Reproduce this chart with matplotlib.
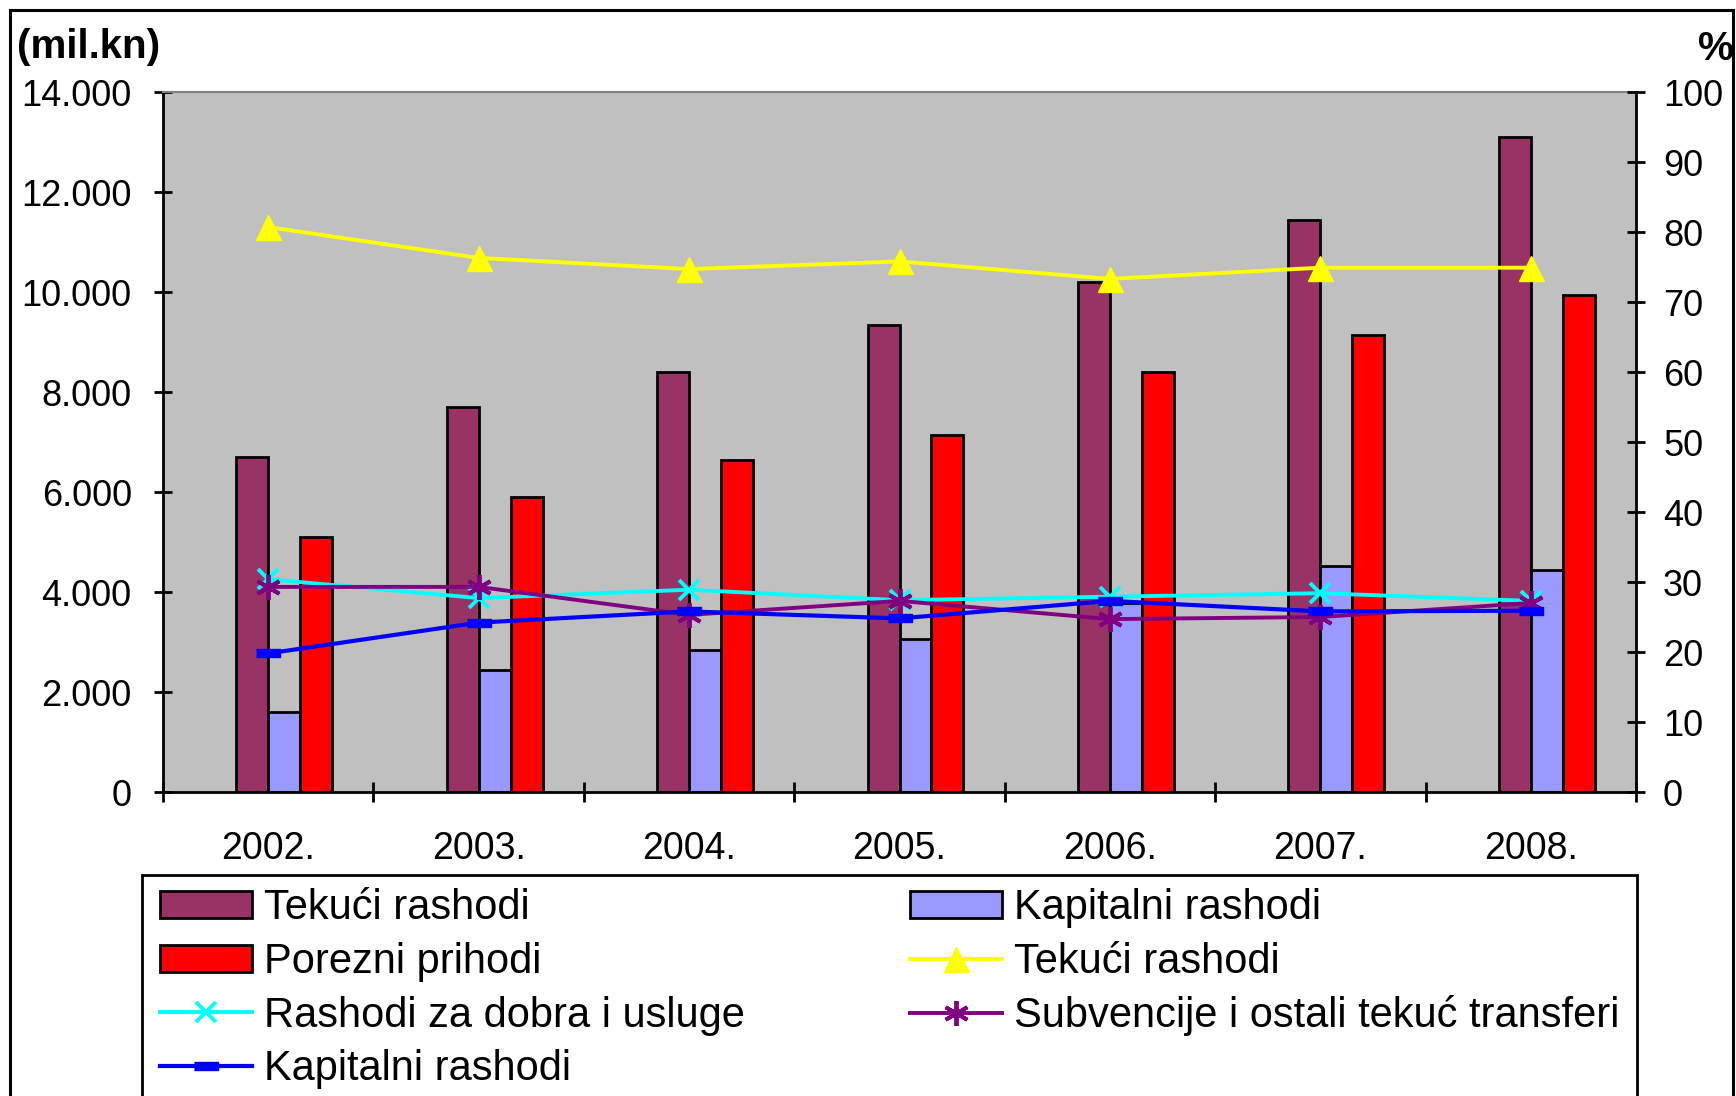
import numpy as np
import matplotlib.pyplot as plt
from matplotlib.patches import Rectangle
from matplotlib.ticker import FuncFormatter, FixedLocator

plt.rcParams['font.family'] = ['Liberation Sans', 'DejaVu Sans']

years = ['2002.', '2003.', '2004.', '2005.', '2006.', '2007.', '2008.']

# mil. kn (left axis)
tekuci = [6700, 7700, 8400, 9350, 10200, 11450, 13100]
kapitalni = [1600, 2440, 2850, 3060, 3780, 4520, 4440]
porezni = [5100, 5900, 6650, 7150, 8400, 9150, 9950]

# % (right axis)
tekuci_pct = [80.7, 76.3, 74.7, 75.8, 73.3, 74.9, 74.9]
dobra_pct = [30.4, 27.7, 28.9, 27.4, 27.9, 28.4, 27.3]
subv_pct = [29.3, 29.3, 25.3, 27.3, 24.7, 25.0, 27.0]
kapit_pct = [19.8, 24.2, 25.8, 24.8, 27.3, 25.8, 25.9]

W, H = 1736, 1096
fig = plt.figure(figsize=(W / 100, H / 100), dpi=100)
ax = fig.add_axes([163 / W, 1 - 792 / H, (1636 - 163) / W, (792 - 92) / H])
ax.set_facecolor('#C0C0C0')

x = np.arange(len(years))
bw = 0.152
# four slots per category, the first one empty (as in the original Excel chart)
b1 = ax.bar(x - 0.5 * bw, tekuci, bw, color='#993366', edgecolor='black', lw=2, label='Tekući rashodi')
b2 = ax.bar(x + 0.5 * bw, kapitalni, bw, color='#9999FF', edgecolor='black', lw=2, label='Kapitalni rashodi')
b3 = ax.bar(x + 1.5 * bw, porezni, bw, color='#FF0000', edgecolor='black', lw=2, label='Porezni prihodi')

ax.set_xlim(-0.5, len(years) - 0.5)
ax.set_ylim(0, 14000)
ax.set_yticks(np.arange(0, 14001, 2000))
ax.yaxis.set_major_formatter(FuncFormatter(lambda v, p: f'{int(v):,}'.replace(',', '.')))
ax.set_xticks(x)
ax.set_xticklabels(years)
ax.xaxis.set_minor_locator(FixedLocator(np.arange(-0.5, len(years), 1.0)))
ax.tick_params(axis='x', which='major', length=0, pad=28, labelsize=27)
ax.tick_params(axis='x', which='minor', direction='inout', length=14, width=2)
ax.tick_params(axis='y', direction='inout', length=13, width=2, pad=16, labelsize=26)
for s in ['left', 'bottom']:
    ax.spines[s].set_linewidth(2)
ax.spines['top'].set_color('#808080')
ax.spines['top'].set_linewidth(1.5)
ax.spines['right'].set_visible(False)

ax2 = ax.twinx()
ax2.set_ylim(0, 100)
ax2.set_yticks(np.arange(0, 101, 10))
ax2.tick_params(axis='y', direction='inout', length=13, width=2, pad=13, labelsize=26)
ax2.spines['right'].set_linewidth(2)
ax2.spines['top'].set_visible(False)
ax2.spines['left'].set_visible(False)
ax2.spines['bottom'].set_visible(False)

dash = [(-1, -0.3), (1, -0.3), (1, 0.3), (-1, 0.3)]
l1, = ax2.plot(x, tekuci_pct, color='#FFFF00', lw=2.8, marker='^', ms=18, label='Tekući rashodi')
l2, = ax2.plot(x, dobra_pct, color='#00FFFF', lw=2.8, marker='x', ms=15, mew=2.8, label='Rashodi za dobra i usluge')
l3, = ax2.plot(x, subv_pct, color='#800080', lw=2.8, marker=(6, 2, 0), ms=18, mew=2.8,
               label='Subvencije i ostali tekuć transferi')
l4, = ax2.plot(x, kapit_pct, color='#0000FF', lw=3, marker=dash, ms=17, label='Kapitalni rashodi')

fig.text(17 / W, 1 - 47 / H, '(mil.kn)', fontsize=29, fontweight='bold', ha='left', va='center')
fig.text(1716 / W, 1 - 49 / H, '%', fontsize=29, fontweight='bold', ha='center', va='center')

leg_kw = dict(frameon=False, fontsize=30, borderpad=0, borderaxespad=0, handlelength=2.2,
              handleheight=0.62, handletextpad=0.3, labelspacing=0.33, loc='upper left')
fig.legend([b1, b3, l2, l4], [h.get_label() for h in [b1, b3, l2, l4]],
           bbox_to_anchor=(160 / W, 1 - 888 / H), **leg_kw)
fig.legend([b2, l1, l3], [h.get_label() for h in [b2, l1, l3]],
           bbox_to_anchor=(910 / W, 1 - 888 / H), **leg_kw)

fig.add_artist(Rectangle((142 / W, -0.05), (1637 - 142) / W, 1 - 875 / H + 0.05,
                         transform=fig.transFigure, fill=False, lw=2, edgecolor='black'))
fig.add_artist(Rectangle((10 / W, -0.05), (1733 - 10) / W, 1 - 10 / H + 0.05,
                         transform=fig.transFigure, fill=False, lw=2.2, edgecolor='black'))

fig.savefig('out.png', dpi=100)
